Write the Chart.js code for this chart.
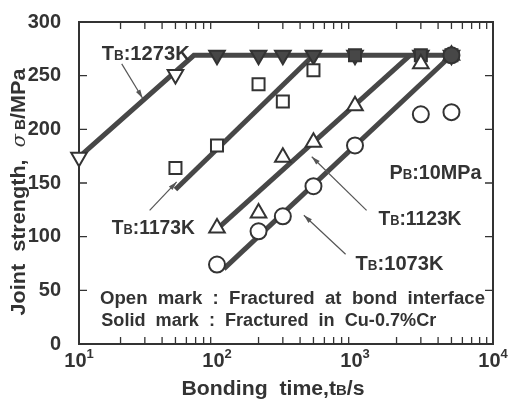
<!DOCTYPE html>
<html>
<head>
<meta charset="utf-8">
<script src="https://cdn.jsdelivr.net/npm/chart.js@4/dist/chart.umd.min.js"></script>
<style>
  html, body { margin: 0; padding: 0; background: #fff; }
  canvas { display: block; }
</style>
</head>
<body>
<canvas id="chart" width="511" height="408"></canvas>
<script>
// values: bonding time t (s), joint strength s (MPa)
var yTicks = [0, 50, 100, 150, 200, 250, 300];
var xDecades = [10, 100, 1000, 10000];
var xExponents = ['1', '2', '3', '4'];

var t1273Open = [10, 50];
var s1273Open = [174, 251];
var t1273Solid = [100, 200, 300, 500, 1000, 3000, 5000];
var s1273Solid = [269, 269, 269, 269, 269, 269, 269];
var t1273Fit = [10, 68, 5000];
var s1273Fit = [174, 269, 269];

var t1173Open = [50, 100, 200, 300, 500];
var s1173Open = [164, 185, 242, 226, 255];
var t1173Solid = [1000, 3000, 5000];
var s1173Solid = [269, 269, 269];
var t1173Fit = [50, 500];
var s1173Fit = [144, 269];

var t1123Open = [100, 200, 300, 500, 1000, 3000];
var s1123Open = [108, 122, 174, 188, 222, 261];
var t1123Solid = [5000];
var s1123Solid = [269];
var t1123Fit = [100, 2500];
var s1123Fit = [107, 269];

var t1073Open = [100, 200, 300, 500, 1000, 3000, 5000];
var s1073Open = [74, 105, 119, 147, 185, 214, 216];
var t1073Solid = [5000];
var s1073Solid = [269];
var t1073Fit = [112, 5000];
var s1073Fit = [70, 269];

var ink = '#333';
var lineInk = '#474747';
var FONT = '"Liberation Sans", Arial, sans-serif';

function pts(xs, ys) {
  return xs.map(function (x, i) { return { x: x, y: ys[i] }; });
}

function fitLine(xs, ys) {
  return { data: pts(xs, ys), showLine: true, borderColor: lineInk, borderWidth: 5,
    pointRadius: 0, order: 3, clip: false };
}

function marks(xs, ys, style, solid, r, rot) {
  return { data: pts(xs, ys), pointStyle: style, rotation: rot || 0, pointRadius: r,
    pointBorderWidth: 2, pointBackgroundColor: solid ? lineInk : '#fff',
    pointBorderColor: ink, showLine: false, order: solid ? 2 : 1, clip: false };
}

// text made of pieces (for the small B), squeezed to a given width
function rich(ctx, segs, x, y, w, align) {
  var total = 0;
  segs.forEach(function (s) {
    ctx.font = (s.style || 'bold') + ' ' + s.size + 'px ' + (s.family || FONT);
    s.w = ctx.measureText(s.t).width;
    total += s.w;
  });
  var k = w ? w / total : 1;
  ctx.save();
  ctx.translate(x, y);
  ctx.scale(k, 1);
  var cx = align === 'center' ? -total / 2 : 0;
  segs.forEach(function (s) {
    ctx.font = (s.style || 'bold') + ' ' + s.size + 'px ' + (s.family || FONT);
    ctx.fillText(s.t, cx, s.dy || 0);
    cx += s.w;
  });
  ctx.restore();
}

function tb(k) {
  return [{ t: 'T', size: 21 }, { t: 'B', size: 14 }, { t: ':' + k, size: 21 }];
}

function arrow(ctx, x0, y0, x1, y1) {
  var a = Math.atan2(y1 - y0, x1 - x0);
  ctx.beginPath();
  ctx.moveTo(x0, y0);
  ctx.lineTo(x1, y1);
  ctx.stroke();
  ctx.beginPath();
  ctx.moveTo(x1, y1);
  ctx.lineTo(x1 - 9 * Math.cos(a - 0.28), y1 - 9 * Math.sin(a - 0.28));
  ctx.lineTo(x1 - 9 * Math.cos(a + 0.28), y1 - 9 * Math.sin(a + 0.28));
  ctx.closePath();
  ctx.fill();
}

var decor = {
  id: 'decor',
  beforeDatasetsDraw: function (chart) {
    var ctx = chart.ctx, a = chart.chartArea, x = chart.scales.x, y = chart.scales.y;
    ctx.save();
    ctx.strokeStyle = ink;
    ctx.lineWidth = 2;
    ctx.strokeRect(a.left, a.top, a.right - a.left, a.bottom - a.top);
    ctx.lineWidth = 1.3;
    ctx.beginPath();
    for (var d = 10; d < 10000; d *= 10) {
      for (var m = 2; m <= 9; m++) {
        var px = x.getPixelForValue(d * m);
        ctx.moveTo(px, a.bottom); ctx.lineTo(px, a.bottom - 7);
        ctx.moveTo(px, a.top); ctx.lineTo(px, a.top + 7);
      }
    }
    yTicks.forEach(function (v) {
      var py = y.getPixelForValue(v);
      ctx.moveTo(a.left, py); ctx.lineTo(a.left + 8, py);
      ctx.moveTo(a.right, py); ctx.lineTo(a.right - 8, py);
    });
    ctx.stroke();
    ctx.restore();
  },
  afterDraw: function (chart) {
    var ctx = chart.ctx, x = chart.scales.x, y = chart.scales.y;
    function X(t) { return x.getPixelForValue(t); }
    function Y(s) { return y.getPixelForValue(s); }
    ctx.save();
    ctx.fillStyle = ink;
    ctx.textBaseline = 'alphabetic';

    // x tick labels 10^n
    xDecades.forEach(function (d, i) {
      rich(ctx, [{ t: '10', size: 20 }, { t: xExponents[i], size: 13, dy: -9 }],
        X(d), 367, 0, 'center');
    });

    // axis titles
    rich(ctx, [{ t: 'Bonding  time,t', size: 20 }, { t: 'B', size: 14 }, { t: '/s', size: 20 }],
      273, 395, 183, 'center');
    ctx.save();
    ctx.translate(25, 192);
    ctx.rotate(-Math.PI / 2);
    rich(ctx, [{ t: 'Joint  strength,  ', size: 20 },
      { t: 'σ', size: 18, style: 'italic', family: '"DejaVu Serif", serif' },
      { t: ' B', size: 14 }, { t: '/MPa', size: 20 }], 0, 0, 247, 'center');
    ctx.restore();

    // series labels
    rich(ctx, tb('1273K'), X(14.6), Y(264.5), 88);
    rich(ctx, tb('1173K'), X(17.3), Y(102.7), 83);
    rich(ctx, tb('1123K'), X(1479), Y(111), 83);
    rich(ctx, tb('1073K'), X(1009), Y(69), 88);
    rich(ctx, [{ t: 'P', size: 21 }, { t: 'B', size: 14 }, { t: ':10MPa', size: 21 }],
      X(1778), Y(153.6), 92);

    // notes
    rich(ctx, [{ t: 'Open  mark  :  Fractured  at  bond  interface', size: 18 }],
      X(14.2), Y(37.3), 385);
    rich(ctx, [{ t: 'Solid  mark  :  Fractured  in  Cu-0.7%Cr', size: 18 }],
      X(14.5), Y(16.4), 335);

    // arrows
    ctx.strokeStyle = '#555';
    ctx.fillStyle = '#555';
    ctx.lineWidth = 1.2;
    arrow(ctx, X(20.4), Y(261), X(28.9), Y(229));
    arrow(ctx, X(32.5), Y(124.5), X(51), Y(151));
    arrow(ctx, X(1213), Y(124.5), X(486), Y(174.5));
    arrow(ctx, X(855), Y(83.6), X(426), Y(120));
    ctx.restore();
  }
};

new Chart(document.getElementById('chart').getContext('2d'), {
  type: 'scatter',
  data: {
    datasets: [
      fitLine(t1273Fit, s1273Fit),
      fitLine(t1173Fit, s1173Fit),
      fitLine(t1123Fit, s1123Fit),
      fitLine(t1073Fit, s1073Fit),
      marks(t1073Solid, s1073Solid, 'circle', true, 8),
      marks(t1123Solid, s1123Solid, 'triangle', true, 9),
      marks(t1173Solid, s1173Solid, 'rect', true, 8.5),
      marks(t1273Solid, s1273Solid, 'triangle', true, 9, 180),
      marks(t1273Open, s1273Open, 'triangle', false, 9, 180),
      marks(t1173Open, s1173Open, 'rect', false, 8.5),
      marks(t1123Open, s1123Open, 'triangle', false, 9),
      marks(t1073Open, s1073Open, 'circle', false, 8)
    ]
  },
  options: {
    responsive: false,
    animation: false,
    layout: { padding: { top: 14, right: 18, left: 0, bottom: 0 } },
    plugins: { legend: { display: false }, tooltip: { enabled: false } },
    scales: {
      x: {
        type: 'logarithmic', min: 10, max: 10000,
        grid: { display: false }, border: { display: false },
        ticks: { display: false },
        afterFit: function (s) { s.height = 64; }
      },
      y: {
        min: 0, max: 300,
        grid: { display: false }, border: { display: false },
        ticks: { stepSize: 50, padding: 10, color: ink,
          font: { family: FONT, size: 20, weight: 'bold' } },
        afterFit: function (s) { s.width = 79; }
      }
    }
  },
  plugins: [decor]
});
</script>
</body>
</html>
